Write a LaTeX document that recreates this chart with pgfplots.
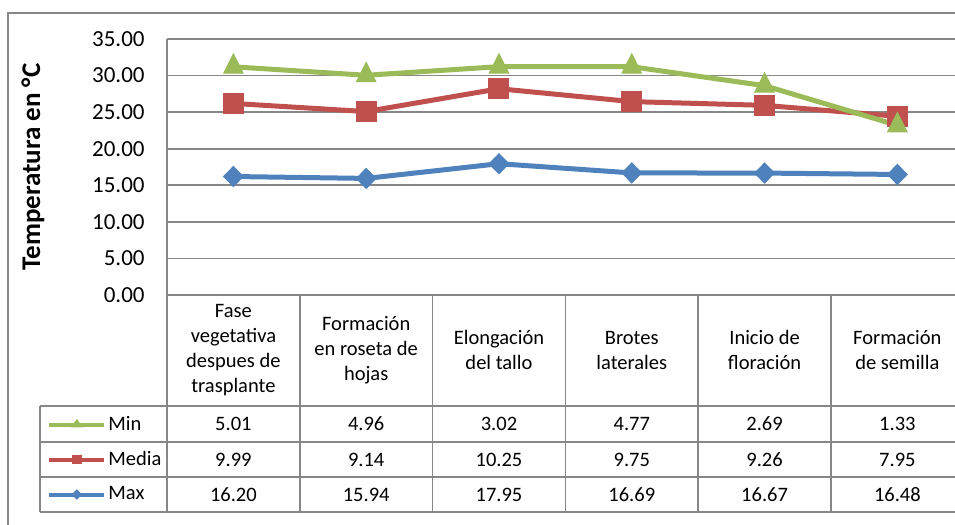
\documentclass[border=0pt]{standalone}
\usepackage{pgfplots}
\pgfplotsset{compat=1.18}
\usepackage{fontspec}
\setmainfont{Carlito}
\definecolor{cblue}{HTML}{4F81BD}
\definecolor{cred}{HTML}{C0504D}
\definecolor{cgreen}{HTML}{9BBB59}
\definecolor{cgrid}{HTML}{878787}
\begin{document}
\begin{tikzpicture}
\begin{axis}[
 at={(0,0)}, anchor=south west,
 scale only axis, width=394pt, height=128pt,
 xmin=-0.5, xmax=5.434, ymin=0, ymax=35,
 ytick={0,5,...,35},
 xtick={0,...,5},
 xticklabels={{Fase\\vegetativa\\despues de\\trasplante},{Formación\\en roseta de\\hojas},{Elongación\\del tallo},{Brotes\\laterales},{Inicio de\\floración},{Formación\\de semilla}},
 xticklabel style={align=center, anchor=center, yshift=-27.5pt, font=\fontsize{10.25}{12.5}\selectfont},
 yticklabel={\pgfmathprintnumber[fixed,fixed zerofill,precision=2]{\tick}},
 /pgf/number format/assume math mode=true,
 yticklabel style={anchor=east, inner sep=0pt, xshift=-11pt, font=\fontsize{11.5}{13}\selectfont},
 major tick length=0pt,
 axis x line*=bottom, axis y line*=left,
 axis line style={cgrid, line width=0.9pt, -},
 ymajorgrids, grid style={cgrid, line width=0.9pt},
 clip=false,
 reverse legend,
 legend style={at={(axis description cs:-0.1523,-0.6426)}, anchor=west, draw=none, fill=none, inner sep=0pt, row sep=0pt, column sep=1pt, font=\fontsize{10.25}{12.5}\selectfont},
 legend cell align=left,
 legend style={nodes={minimum height=17.5pt, inner sep=0pt}},
 legend image code/.code={\draw[#1] (0pt,0pt) -- (27.5pt,0pt); \path[#1, mark repeat=2, mark phase=2, only marks] plot coordinates {(0pt,0pt) (13.75pt,0pt) (27.5pt,0pt)};},
]
\addplot[forget plot, cblue, line width=2.5pt, mark=diamond*, mark size=5pt, mark options={xscale=1.3, line width=0.5pt}] coordinates {(0,16.20)(1,15.94)(2,17.95)(3,16.69)(4,16.67)(5,16.48)};
\addplot[forget plot, cred, line width=2.5pt, mark=square*, mark size=5pt, mark options={line width=0.5pt}] coordinates {(0,26.19)(1,25.08)(2,28.20)(3,26.44)(4,25.93)(5,24.43)};
\addplot[forget plot, cgreen, line width=2.5pt, mark=triangle*, mark size=5.6pt, mark options={yscale=1.15, line width=0.5pt}] coordinates {(0,31.20)(1,30.04)(2,31.22)(3,31.21)(4,28.62)(5,23.20)};
\addlegendimage{cblue, line width=2pt, mark=diamond*, mark size=2.3pt, mark options={xscale=1.3, line width=0.5pt}}
\addlegendentry{Max}
\addlegendimage{cred, line width=2pt, mark=square*, mark size=2.2pt, mark options={line width=0.5pt}}
\addlegendentry{Media}
\addlegendimage{cgreen, line width=2pt, mark=triangle*, mark size=2.8pt, mark options={yscale=0.85, line width=0.5pt}}
\addlegendentry{Min}
\end{axis}
% table grid
\foreach \k in {0,...,5} \draw[cgrid, line width=0.9pt] ({\k*66.4pt},0pt) -- ({\k*66.4pt},-108.5pt);
\foreach \yy in {-55.5,-73.5,-91,-108.5} \draw[cgrid, line width=0.9pt] (-63.5pt,\yy pt) -- (400pt,\yy pt);
\draw[cgrid, line width=0.9pt] (-63.5pt,-55.5pt) -- (-63.5pt,-108.5pt);
% table values
\foreach \v [count=\i from 0] in {5.01,4.96,3.02,4.77,2.69,1.33}
  \node[font=\fontsize{10.25}{12.5}\selectfont] at ({(\i+0.5)*66.4pt},-64.5pt) {\v};
\foreach \v [count=\i from 0] in {9.99,9.14,10.25,9.75,9.26,7.95}
  \node[font=\fontsize{10.25}{12.5}\selectfont] at ({(\i+0.5)*66.4pt},-82.25pt) {\v};
\foreach \v [count=\i from 0] in {16.20,15.94,17.95,16.69,16.67,16.48}
  \node[font=\fontsize{10.25}{12.5}\selectfont] at ({(\i+0.5)*66.4pt},-99.75pt) {\v};
% y label
\node[rotate=90, font=\bfseries\fontsize{13.5}{15}\selectfont] at (-67pt,64pt) {Temperatura en °C};
% outer frame
\draw[cgrid, line width=0.7pt] (-79.5pt,-130pt) -- (-79.5pt,141pt) -- (400pt,141pt);
\pgfresetboundingbox
\useasboundingbox (-83.5pt,-115pt) rectangle (394pt,147.5pt);
\end{tikzpicture}
\end{document}
